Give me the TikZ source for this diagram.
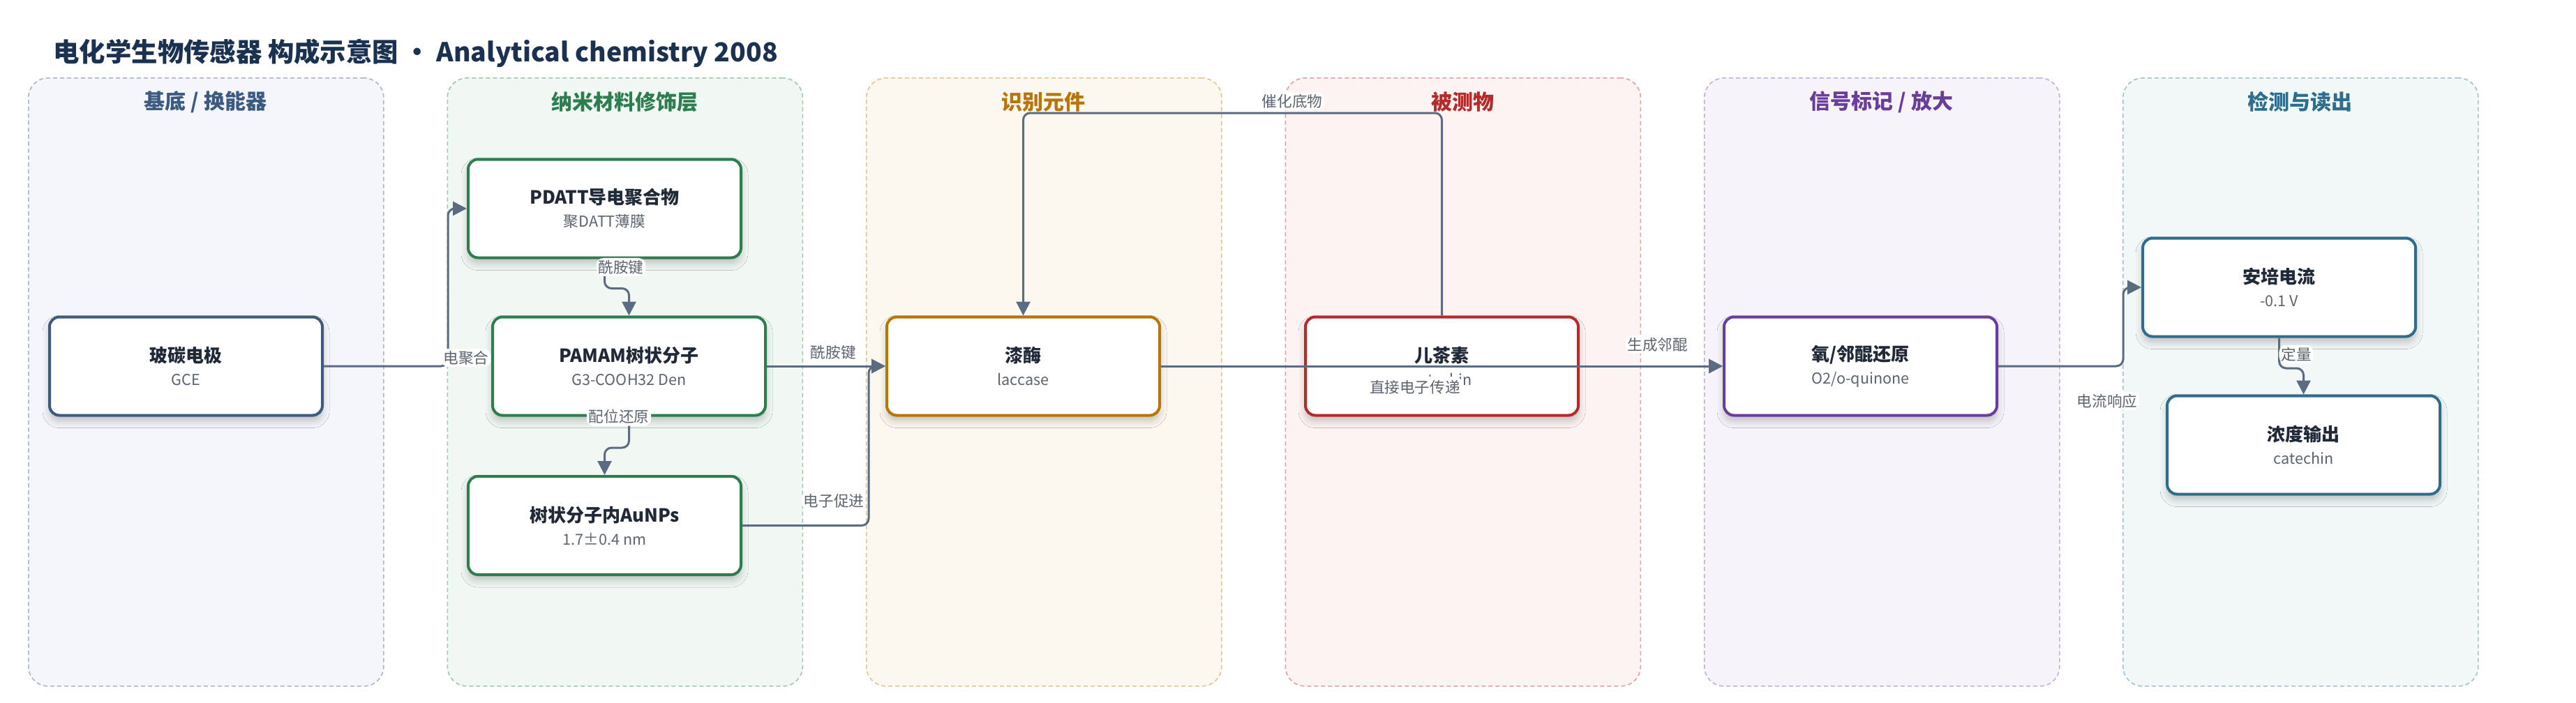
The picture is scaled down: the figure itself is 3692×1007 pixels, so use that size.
\documentclass[tikz,border=0pt]{standalone}
\usepackage{fontspec}
\setmainfont{Noto Sans CJK SC}
\usepackage{tikz}
\usetikzlibrary{arrows.meta, shadows.blur}

\definecolor{edgec}{HTML}{5A6B82}
\definecolor{titlec}{HTML}{1B3150}
\definecolor{textc}{HTML}{1F2937}
\definecolor{subc}{HTML}{5C6470}
\definecolor{baseC}{HTML}{3D5A80}
\definecolor{baseF}{HTML}{F4F6FB}
\definecolor{baseD}{HTML}{A9B5C9}
\definecolor{nanoC}{HTML}{2E7D4F}
\definecolor{nanoF}{HTML}{F1F8F3}
\definecolor{nanoD}{HTML}{9CCAAA}
\definecolor{recC}{HTML}{B8760A}
\definecolor{recF}{HTML}{FDF8EF}
\definecolor{recD}{HTML}{E6C48C}
\definecolor{anaC}{HTML}{B52A2A}
\definecolor{anaF}{HTML}{FDF3F2}
\definecolor{anaD}{HTML}{E5A0A0}
\definecolor{sigC}{HTML}{6A3D9A}
\definecolor{sigF}{HTML}{F6F3FB}
\definecolor{sigD}{HTML}{C5AEDF}
\definecolor{detC}{HTML}{2E6E8C}
\definecolor{detF}{HTML}{F2F7F8}
\definecolor{detD}{HTML}{A3C2CE}

\newcommand{\boxtext}[2]{{\bfseries\fontsize{13}{16}\selectfont\color{textc}#1}\\{\color{subc}#2}}

\begin{document}
\begin{tikzpicture}[x=0.5pt, y=-0.5pt, >={Triangle[length=10pt, width=10pt]},
      lane/.style={draw=#1D, fill=#1F, dash pattern=on 3pt off 2pt, line width=0.8pt, rounded corners=14pt,
        minimum width=254.5pt, minimum height=436pt, anchor=north west},
      head/.style={text=#1C, font=\bfseries\fontsize{15}{18}\selectfont},
      box/.style={draw=#1C, line width=2pt, rounded corners=7pt, fill=white, minimum width=195.5pt,
        minimum height=70.5pt, align=center, font=\fontsize{10.8}{16.5}\selectfont,
        blur shadow={shadow xshift=0pt, shadow yshift=-4pt, shadow blur radius=5pt, shadow opacity=22}},
      flow/.style={->, draw=edgec, line width=1.5pt, rounded corners=5pt},
      elab/.style={fill=white, text=subc, inner sep=1.5pt, font=\fontsize{10.8}{13}\selectfont}]

    \fill[white] (0,0) rectangle (3692,1007);
    \useasboundingbox (0,0) rectangle (3692,1007);

    \node[anchor=west, inner sep=0pt, text=titlec, font=\bfseries\fontsize{18.7}{22}\selectfont] (title) at (76,76)
      {电化学生物传感器 构成示意图 · Analytical chemistry 2008};

    \node[lane=base] (base lane) at (40,111) {};
    \node[lane=nano] (nano lane) at (640.5,111) {};
    \node[lane=rec] (rec lane) at (1241,111) {};
    \node[lane=ana] (ana lane) at (1841.5,111) {};
    \node[lane=sig] (sig lane) at (2442,111) {};
    \node[lane=det] (det lane) at (3042,111) {};

    \node[head=base] (base head) at (294.5,146) {基底 / 换能器};
    \node[head=nano] (nano head) at (895,146) {纳米材料修饰层};
    \node[head=rec] (rec head) at (1495.5,146) {识别元件};
    \node[head=ana] (ana head) at (2096,146) {被测物};
    \node[head=sig] (sig head) at (2696.5,146) {信号标记 / 放大};
    \node[head=det] (det head) at (3296.5,146) {检测与读出};

    \node[box=base] (gce) at (266.5,525) {\boxtext{玻碳电极}{GCE}};
    \node[box=nano] (pdatt) at (866.5,299) {\boxtext{PDATT导电聚合物}{聚DATT薄膜}};
    \node[box=nano] (pamam) at (901.5,525) {\boxtext{PAMAM树状分子}{G3-COOH32 Den}};
    \node[box=nano] (aunps) at (866.5,753.5) {\boxtext{树状分子内AuNPs}{1.7±0.4 nm}};
    \node[box=rec] (lac) at (1466.5,525) {\boxtext{漆酶}{laccase}};
    \node[box=ana] (cat) at (2066.5,525) {\boxtext{儿茶素}{catechin}};
    \node[box=sig] (oq) at (2666.5,525) {\boxtext{氧/邻醌还原}{O2/o-quinone}};
    \node[box=det] (amp) at (3266.5,412) {\boxtext{安培电流}{-0.1 V}};
    \node[box=det] (conc) at (3301.5,638) {\boxtext{浓度输出}{catechin}};

    \draw[flow] (gce.east) -- ++(178,0) node[elab, pos=1, xshift=13pt, yshift=6pt] {电聚合} |- (pdatt.west);
    \draw[flow] (pdatt.south) node[elab, xshift=11.75pt, yshift=-5.75pt] {酰胺键} -- ++(0,42) -| (pamam.north);
    \draw[flow] (pamam.south) node[elab, xshift=-7.25pt] {配位还原} -- ++(0,44.5) -| (aunps.north);
    \draw[flow] (pamam.east) -- node[elab, pos=0.56, yshift=10pt] {酰胺键} (lac.west);
    \draw[flow] (aunps.east) -- ++(181,0) node[elab, pos=1, xshift=-25pt, yshift=17.75pt] {电子促进} |- (lac.west);
    \draw[flow] (cat.north) -- ++(0,-290.5) node[elab, pos=1, xshift=-107.25pt, yshift=8.5pt] {催化底物} -| (lac.north);
    \draw[flow] (lac.east) -- node[elab, pos=0.452, yshift=-15pt, inner ysep=2.5pt] {直接电子传递} (oq.west);
    \draw[flow] (cat.east) -- node[elab, pos=0.545, yshift=15.5pt] {生成邻醌} (oq.west);
    \draw[flow] (oq.east) -- ++(179,0) node[elab, pos=1, xshift=-11.5pt, yshift=-25pt] {电流响应} |- (amp.west);
    \draw[flow] (amp.south) node[elab, xshift=12.25pt, yshift=-11.75pt] {定量} -- ++(0,43.5) -| (conc.north);
  \end{tikzpicture}
\end{document}
